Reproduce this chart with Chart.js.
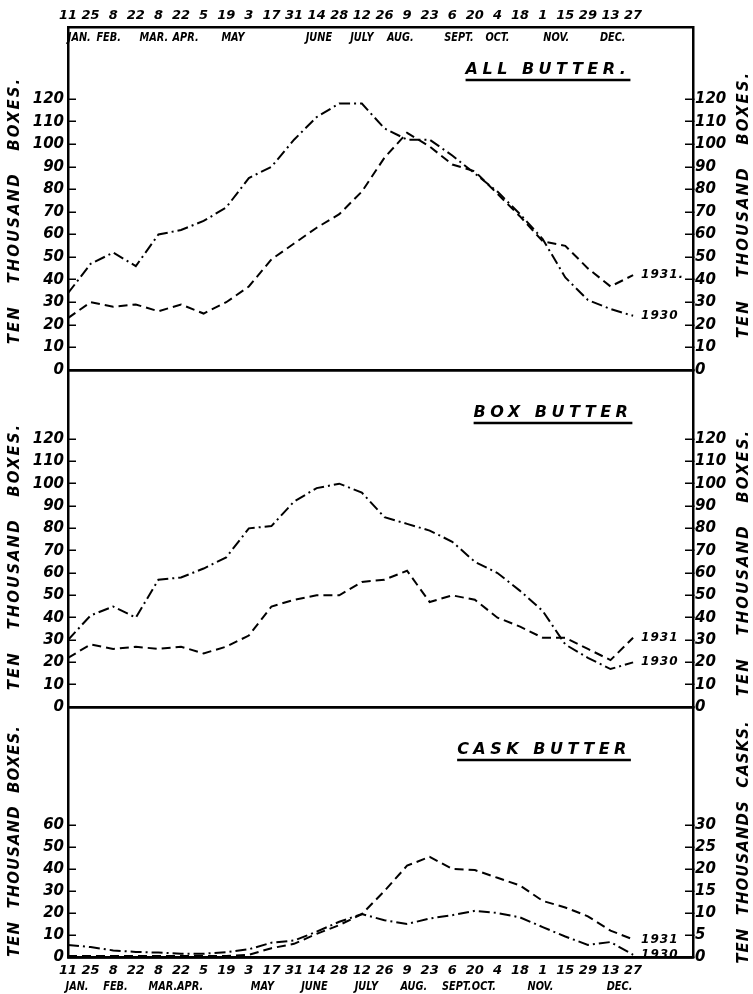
<!DOCTYPE html>
<html>
<head>
<meta charset="utf-8">
<title>Butter in storage 1930 - 1931</title>
<script src="https://cdn.jsdelivr.net/npm/chart.js@4.4.0/dist/chart.umd.min.js"></script>
<style>
  html, body { margin: 0; padding: 0; background: #fff; }
  #wrap { width: 753px; height: 994px; }
</style>
</head>
<body>
<div id="wrap"><canvas id="chart" width="753" height="994"></canvas></div>
<script>
// fechas de la semana (eje x)
const dates = ['11','25','8','22','8','22','5','19','3','17','31','14','28','12','26','9','23','6','20','4','18','1','15','29','13','27'];
const months = ['JAN.','FEB.','MAR.','APR.','MAY','JUNE','JULY','AUG.','SEPT.','OCT.','NOV.','DEC.'];
const monthTop = [0.5, 1.8, 3.8, 5.2, 7.3, 11.1, 13.0, 14.7, 17.3, 19.0, 21.6, 24.1];
const monthBottom = [0.4, 2.1, 4.2, 5.4, 8.6, 10.9, 13.2, 15.3, 17.2, 18.4, 20.9, 24.4];

// ticks de los ejes y
const boxTicks = [0, 10, 20, 30, 40, 50, 60, 70, 80, 90, 100, 110, 120];
const caskBoxTicks = [0, 10, 20, 30, 40, 50, 60];
const caskTicks = [0, 5, 10, 15, 20, 25, 30];

// ALL BUTTER (ten thousand boxes)
const all1930 = [34, 47, 52, 46, 60, 62, 66, 72, 85, 90, 102, 112, 118, 118, 107, 102, 102, 95, 87, 79, 69, 58, 41, 31, 27, 24];
const all1931 = [23, 30, 28, 29, 26, 29, 25, 30, 37, 49, 56, 63, 69, 79, 94, 105, 99, 91, 88, 78, 68, 57, 55, 45, 37, 42];

// BOX BUTTER
const box1930 = [30, 41, 45, 40, 57, 58, 62, 67, 80, 81, 92, 98, 100, 96, 85, 82, 79, 74, 65, 60, 52, 43, 28, 22, 17, 20];
const box1931 = [22, 28, 26, 27, 26, 27, 24, 27, 32, 45, 48, 50, 50, 56, 57, 61, 47, 50, 48, 40, 36, 31, 31, 26, 21, 31];

// CASK BUTTER (plotted in ten thousand boxes)
const cask1930 = [5.5, 4.5, 3, 2.3, 2, 1.5, 1.5, 2.2, 3.5, 6.5, 7.5, 11.5, 16, 19.5, 16.7, 15, 17.5, 19, 21, 20, 18, 13.6, 9.3, 5.5, 6.8, 1];
const cask1931 = [0.5, 0.5, 0.5, 0.5, 0.5, 0.5, 0.5, 0.5, 1, 4, 6, 10.5, 14.5, 19.5, 30, 41.5, 45.5, 40, 39.5, 36, 32.5, 25.5, 22.5, 18.5, 12, 8];

const FAMILY = '"DejaVu Sans", sans-serif';
const tickFont = { family: FAMILY, style: 'italic', weight: 'bold', size: 15 };
const dateFont = { family: FAMILY, style: 'italic', weight: 'bold', size: 13 };

const dashed = [9, 5];
const dashDot = [11, 4, 2, 4];

function series(values) {
  return values.map((v, i) => ({ x: i, y: v }));
}

function line(label, values, axis, dash, endLabel) {
  return {
    label: label,
    data: series(values),
    yAxisID: axis,
    xAxisID: 'x',
    borderColor: '#000',
    borderWidth: 2,
    borderDash: dash,
    pointRadius: 0,
    tension: 0,
    fill: false,
    endLabel: endLabel
  };
}

// title = [texto, desplazamiento vertical, espaciado de letras]
function yScale(pos, max, weight, tickList, title) {
  return {
    type: 'linear',
    position: pos,
    stack: pos,
    stackWeight: weight,
    min: 0,
    max: max,
    afterBuildTicks: s => { s.ticks = tickList.map(v => ({ value: v })); },
    afterFit: s => { s.width = pos === 'left' ? 68 : 60; },
    ticks: { font: tickFont, color: '#000', padding: pos === 'left' ? 12 : 10, autoSkip: false },
    grid: {
      drawOnChartArea: true,
      color: c => (c.tick && c.tick.value === 0) ? '#000' : 'rgba(0,0,0,0)',
      lineWidth: 2.5,
      tickColor: '#000',
      tickLength: -8,
      tickWidth: 1.5
    },
    border: { display: true, color: '#000', width: 2.5 },
    axisTitle: title
  };
}

function xScale(pos, height, pad) {
  return {
    type: 'linear',
    position: pos,
    min: 0,
    max: 27.65,
    afterBuildTicks: s => { s.ticks = dates.map((d, i) => ({ value: i })); },
    afterFit: s => { s.height = height; },
    ticks: { font: dateFont, color: '#000', padding: pad, autoSkip: false, maxRotation: 0, callback: v => dates[v] },
    grid: { display: false, drawTicks: false },
    border: { display: true, color: '#000', width: 2.5 }
  };
}

// dibuja un texto comprimido en horizontal (letras estrechas del original)
function narrowText(ctx, text, x, y, k) {
  ctx.save();
  ctx.translate(x, y);
  ctx.scale(k, 1);
  ctx.fillText(text, 0, 0);
  ctx.restore();
}

// textos: meses, títulos, ejes, años
const decor = {
  id: 'decor',
  afterDraw(chart) {
    const ctx = chart.ctx;
    const area = chart.chartArea;
    const xs = chart.scales.x;
    ctx.save();
    ctx.fillStyle = '#000';
    ctx.strokeStyle = '#000';

    // meses arriba (dentro del marco) y abajo
    ctx.font = 'italic bold 13px ' + FAMILY;
    ctx.textAlign = 'center';
    ctx.textBaseline = 'middle';
    months.forEach((m, i) => {
      narrowText(ctx, m, xs.getPixelForValue(monthTop[i]), area.top + 11, 0.75);
      narrowText(ctx, m, xs.getPixelForValue(monthBottom[i]), chart.height - 7, 0.75);
    });

    // títulos de cada panel
    const panels = [['y1', 'ALL BUTTER.', 548], ['y2', 'BOX BUTTER', 553], ['y3', 'CASK BUTTER', 544]];
    ctx.font = 'italic bold 16px ' + FAMILY;
    ctx.letterSpacing = '4.5px';
    panels.forEach(p => {
      const sc = chart.scales[p[0]];
      const cx = p[2];
      const cy = sc.top + 43;
      ctx.fillText(p[1], cx, cy);
      const w = ctx.measureText(p[1]).width;
      ctx.lineWidth = 2.5;
      ctx.beginPath();
      ctx.moveTo(cx - w / 2, cy + 10);
      ctx.lineTo(cx + w / 2, cy + 10);
      ctx.stroke();
    });

    // títulos de ejes (rotados, se leen de abajo arriba)
    ctx.font = 'italic bold 15px ' + FAMILY;
    Object.values(chart.scales).forEach(sc => {
      const t = sc.options.axisTitle;
      if (!t) return;
      const tx = sc.options.position === 'left' ? 15 : 744;
      const ty = (sc.top + sc.bottom) / 2 + t[1];
      ctx.save();
      ctx.letterSpacing = t[2] + 'px';
      ctx.translate(tx, ty);
      ctx.rotate(-Math.PI / 2);
      ctx.fillText(t[0], 0, 0);
      ctx.restore();
    });

    // años al final de cada línea
    ctx.font = 'italic bold 12px ' + FAMILY;
    ctx.letterSpacing = '1px';
    ctx.textAlign = 'left';
    chart.data.datasets.forEach((ds, i) => {
      const pts = chart.getDatasetMeta(i).data;
      const last = pts[pts.length - 1];
      ctx.fillText(ds.endLabel, last.x + 8, last.y);
    });
    ctx.restore();
  }
};

const chart = new Chart(document.getElementById('chart'), {
  type: 'line',
  data: {
    datasets: [
      line('1930', all1930, 'y1', dashDot, '1930'),
      line('1931', all1931, 'y1', dashed, '1931.'),
      line('1930', box1930, 'y2', dashDot, '1930'),
      line('1931', box1931, 'y2', dashed, '1931'),
      line('1930', cask1930, 'y3', dashDot, '1930'),
      line('1931', cask1931, 'y3', dashed, '1931')
    ]
  },
  options: {
    responsive: false,
    animation: false,
    devicePixelRatio: 1,
    layout: { padding: 0 },
    plugins: { legend: { display: false }, tooltip: { enabled: false } },
    scales: {
      x: xScale('bottom', 37, 6),
      x2: xScale('top', 27, 4),
      // la pila izquierda se coloca en orden inverso
      y3: yScale('left', 113.6, 250, caskBoxTicks, ['TEN  THOUSAND  BOXES.', 9, 1]),
      y2: yScale('left', 150.9, 337, boxTicks, ['TEN   THOUSAND   BOXES.', 18, 2]),
      y1: yScale('left', 151.9, 343, boxTicks, ['TEN   THOUSAND   BOXES.', 12, 2]),
      y1r: yScale('right', 151.9, 343, boxTicks, ['TEN   THOUSAND   BOXES.', 6, 2]),
      y2r: yScale('right', 150.9, 337, boxTicks, ['TEN   THOUSAND   BOXES.', 24, 2]),
      y3r: yScale('right', 56.8, 250, caskTicks, ['TEN  THOUSANDS  CASKS.', 10, 1])
    }
  },
  plugins: [decor]
});
</script>
</body>
</html>
